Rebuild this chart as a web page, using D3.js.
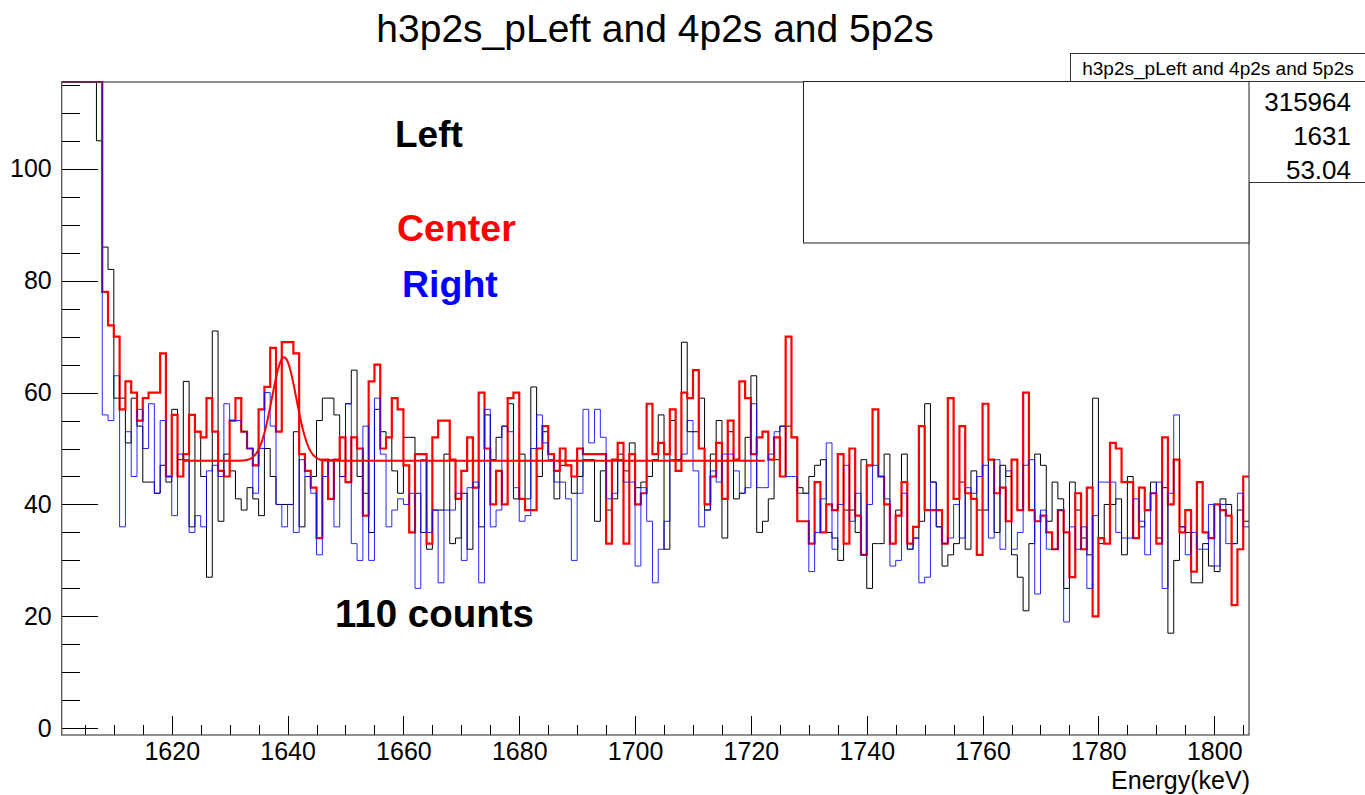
<!DOCTYPE html>
<html>
<head>
<meta charset="utf-8">
<script src="https://cdn.jsdelivr.net/npm/d3@7/dist/d3.min.js"></script>
<style>
body {margin:0; background:#fff;}
text {font-family:"Liberation Sans", Arial, Helvetica, sans-serif;}
.axis path {display:none;}
.axis line {stroke:#000; shape-rendering:crispEdges;}
</style>
</head>
<body>
<svg id="chart" width="1365" height="795"></svg>
<script>
// binning (1 keV bins), histogram contents
var firstBin = 1601, binWidth = 1;
var xDomain = [1601, 1806], yDomain = [-1.2, 115.5];

var leftCounts = [
 160,160,160,160,160,160,105, 86, 82, 59,  59, 51, 59, 54, 44, 44, 42, 47, 44, 57,
  48, 62, 36, 53, 45, 27, 71, 37, 49, 46,  41, 39, 43, 41, 38, 50, 45, 40, 40, 40,
  53, 36, 45, 45, 55, 59, 59, 56, 45, 58,  64, 45, 42, 35, 57, 53, 52, 46, 42, 52,
  52, 42, 35, 32, 39, 39, 49, 33, 34, 42,  32, 43, 36, 56, 48, 52, 54, 58, 41, 49,
  41, 61, 45, 53, 49, 41, 47, 47, 42, 45,  48, 48, 37, 46, 39, 41, 49, 46, 51, 43,
  44, 45, 48, 56, 32, 55, 48, 69, 53, 53,  59, 39, 49, 55, 34, 53, 41, 42, 52, 63,
  35, 37, 41, 48, 54, 54, 52, 43, 42, 45,  47, 48, 35, 34, 30, 39, 39, 35, 48, 25,
  33, 33, 49, 33, 39, 49, 32, 34, 37, 58,  44, 36, 29, 31, 33, 44, 32, 46, 39, 39,
  48, 35, 47, 45, 31, 27, 21, 33, 49, 47,  37, 44, 41, 25, 44, 39, 34, 31, 59, 33,
  40, 40, 41, 31, 45, 34, 36, 39, 44, 34,  43, 17, 30, 36, 35, 26, 26, 33, 29, 28,
  41, 40, 33, 39, 37
];
var centerCounts = [
 160,160,160,160,160,160,160, 78, 72, 70,  57, 62, 60, 55, 59, 60, 60, 67, 45, 56,
  45, 49, 56, 53, 52, 59, 53, 46, 45, 55,  59, 53, 50, 47, 57, 61, 68, 53, 69, 69,
  67, 49, 46, 43, 34, 48, 41, 48, 52, 44,  52, 50, 38, 62, 65, 50, 52, 59, 57, 47,
  35, 49, 49, 33, 52, 55, 55, 48, 41, 46,  52, 43, 60, 50, 40, 46, 40, 59, 60, 41,
  39, 39, 50, 54, 49, 46, 50, 47, 45, 50,  49, 49, 49, 49, 33, 48, 51, 33, 49, 40,
  42, 58, 49, 51, 49, 57, 46, 60, 59, 64,  50, 40, 45, 51, 41, 55, 48, 62, 59, 49,
  52, 53, 48, 52, 45, 70, 52, 37, 37, 33,  44, 35, 40, 39, 49, 33, 50, 38, 31, 47,
  57, 45, 40, 33, 38, 44, 33, 36, 54, 39,  39, 39, 33, 59, 41, 54, 42, 41, 31, 58,
  48, 42, 43, 37, 48, 39, 60, 39, 37, 38,  35, 32, 39, 35, 27, 42, 32, 43, 20, 34,
  33, 51, 50, 44, 44, 34, 43, 39, 42, 33,  52, 40, 48, 35, 39, 28, 44, 35, 34, 40,
  39, 38, 22, 32, 45
];
var rightCounts = [
 160,160,160,160,160,160,160, 56, 55, 63,  36, 53, 45, 57, 50, 58, 42, 55, 45, 38,
  49, 48, 35, 38, 36, 46, 47, 45, 58, 55,  55, 53, 50, 42, 50, 60, 54, 40, 36, 40,
  35, 48, 45, 42, 31, 45, 48, 36, 45, 58,  33, 30, 54, 30, 59, 49, 36, 39, 41, 40,
  42, 25, 48, 35, 39, 26, 39, 39, 42, 30,  43, 44, 26, 57, 36, 39, 54, 53, 43, 37,
  38, 50, 56, 51, 48, 44, 44, 41, 30, 42,  57, 51, 57, 52, 41, 42, 48, 44, 44, 29,
  43, 37, 26, 32, 37, 48, 48, 49, 55, 46,  36, 39, 46, 44, 49, 49, 46, 42, 43, 58,
  43, 43, 49, 53, 54, 45, 45, 42, 42, 28,  35, 41, 51, 32, 40, 47, 37, 42, 31, 40,
  47, 45, 41, 29, 30, 42, 32, 34, 26, 27,  44, 36, 33, 34, 40, 34, 43, 42, 45, 47,
  34, 48, 32, 46, 32, 35, 47, 48, 24, 39,  32, 32, 39, 19, 36, 32, 36, 25, 38, 44,
  44, 44, 35, 34, 34, 41, 37, 31, 42, 44,  25, 42, 56, 36, 31, 35, 32, 32, 40, 29,
  40, 33, 33, 42, 36
];

// gaus + pol0 fit on the centre histogram
var fitConst = 47.8, fitAmp = 18.5, fitMean = 1639.4, fitSigma = 2.1;
var fitRange = [1622, 1722.4];

var xMajor = [1620, 1640, 1660, 1680, 1700, 1720, 1740, 1760, 1780, 1800];
var xMinor = [1605, 1610, 1615, 1625, 1630, 1635, 1645, 1650, 1655, 1665, 1670, 1675,
              1685, 1690, 1695, 1705, 1710, 1715, 1725, 1730, 1735, 1745, 1750, 1755,
              1765, 1770, 1775, 1785, 1790, 1795, 1805];
var yMajor = [0, 20, 40, 60, 80, 100];
var yMinor = [5, 10, 15, 25, 30, 35, 45, 50, 55, 65, 70, 75, 85, 90, 95, 105, 110, 115];

var statsTitle = 'h3p2s_pLeft and 4p2s and 5p2s';
var statsValues = ['315964', '1631', '53.04'];

var frame = {left:61.7, right:1249, top:82, bottom:735};
var svg = d3.select('#chart');

var x = d3.scaleLinear().domain(xDomain).range([frame.left, frame.right]);
var y = d3.scaleLinear().domain(yDomain).range([frame.bottom, frame.top]);
// ROOT draws overflowing bins along the frame top
var yc = y.copy().clamp(true);

svg.append('defs').append('clipPath').attr('id','clip')
   .append('rect').attr('x',frame.left).attr('y',frame.top-1)
   .attr('width',frame.right-frame.left).attr('height',frame.bottom-frame.top+1);

// title
svg.append('text').attr('x',655).attr('y',42).attr('text-anchor','middle')
   .style('font-size','39px').text('h3p2s_pLeft and 4p2s and 5p2s');

// axes, ROOT style ticks inside the frame
svg.append('g').attr('class','axis')
   .attr('transform','translate(0,'+frame.bottom+')')
   .call(d3.axisBottom(x).tickValues(xMinor).tickSize(-10).tickFormat(''));
svg.append('g').attr('class','axis xlab')
   .attr('transform','translate(0,'+frame.bottom+')')
   .call(d3.axisBottom(x).tickValues(xMajor).tickSize(-19).tickPadding(10).tickFormat(d3.format('d')));
svg.append('g').attr('class','axis')
   .attr('transform','translate('+frame.left+',0)')
   .call(d3.axisLeft(y).tickValues(yMinor).tickSize(-18).tickFormat(''));
svg.append('g').attr('class','axis ylab')
   .attr('transform','translate('+frame.left+',0)')
   .call(d3.axisLeft(y).tickValues(yMajor).tickSize(-36).tickPadding(10).tickFormat(d3.format('d')));
svg.selectAll('.xlab text, .ylab text').style('font-size','25px')
   .style('font-family','"Liberation Sans", Arial, sans-serif').attr('fill','#000');
svg.selectAll('.xlab text').attr('dy','0.61em');

svg.append('text').attr('x',1250).attr('y',789).attr('text-anchor','end')
   .style('font-size','25px').text('Energy(keV)');

// histograms
function histPoints(counts) {
  var pts = counts.map(function(c, i) {return {e:firstBin+i*binWidth, c:c};});
  pts.push({e:firstBin+counts.length*binWidth, c:counts[counts.length-1]});
  return pts;
}
var step = d3.line().curve(d3.curveStepAfter)
   .x(function(d) {return x(d.e);}).y(function(d) {return yc(d.c);});
var plot = svg.append('g').attr('clip-path','url(#clip)');
plot.append('path').datum(histPoints(leftCounts)).attr('d',step)
   .attr('fill','none').attr('stroke','#000').attr('stroke-width',1);
plot.append('path').datum(histPoints(centerCounts)).attr('d',step)
   .attr('fill','none').attr('stroke','#ff0000').attr('stroke-width',2.2);
plot.append('path').datum(histPoints(rightCounts)).attr('d',step)
   .attr('fill','none').attr('stroke','#0000ff').attr('stroke-opacity',0.85).attr('stroke-width',1);

// fit curve
var fitX = d3.range(fitRange[0], fitRange[1], 0.1);
var fitLine = d3.line()
   .x(function(e) {return x(e);})
   .y(function(e) {return y(fitConst + fitAmp*Math.exp(-0.5*Math.pow((e-fitMean)/fitSigma,2)));});
plot.append('path').datum(fitX).attr('d',fitLine)
   .attr('fill','none').attr('stroke','#ff0000').attr('stroke-width',2);

// frame
svg.append('rect').attr('x',frame.left).attr('y',frame.top)
   .attr('width',frame.right-frame.left).attr('height',frame.bottom-frame.top)
   .attr('fill','none').attr('stroke','#444').attr('stroke-width',1.2);

// stats box (its label column sits under the legend)
svg.append('rect').attr('x',1070.5).attr('y',53.5).attr('width',300).attr('height',28)
   .attr('fill','#fff').attr('stroke','#333');
svg.append('text').attr('x',1218).attr('y',75).attr('text-anchor','middle')
   .style('font-size','19px').text(statsTitle);
svg.append('rect').attr('x',1070.5).attr('y',81.5).attr('width',300).attr('height',101)
   .attr('fill','#fff').attr('stroke','#333');
svg.selectAll('.stat').data(statsValues).enter().append('text').attr('class','stat')
   .attr('x',1351).attr('y',function(d,i) {return 111+i*34;})
   .attr('text-anchor','end').style('font-size','26px').text(function(d) {return d;});

// empty legend box
svg.append('rect').attr('x',803.5).attr('y',81.5).attr('width',445.5).attr('height',161.5)
   .attr('fill','#fff').attr('stroke','#222');

// annotations
var notes = [
  {t:'Left', x:395, y:147, c:'#000', s:37},
  {t:'Center', x:397, y:241, c:'#ff0000', s:37.5},
  {t:'Right', x:402, y:297, c:'#0000ff', s:37.5},
  {t:'110 counts', x:335, y:627, c:'#000', s:38.5}
];
svg.selectAll('.note').data(notes).enter().append('text').attr('class','note')
   .attr('x',function(d) {return d.x;}).attr('y',function(d) {return d.y;})
   .attr('fill',function(d) {return d.c;})
   .style('font-size',function(d) {return d.s+'px';}).style('font-weight','bold')
   .text(function(d) {return d.t;});
</script>
</body>
</html>
